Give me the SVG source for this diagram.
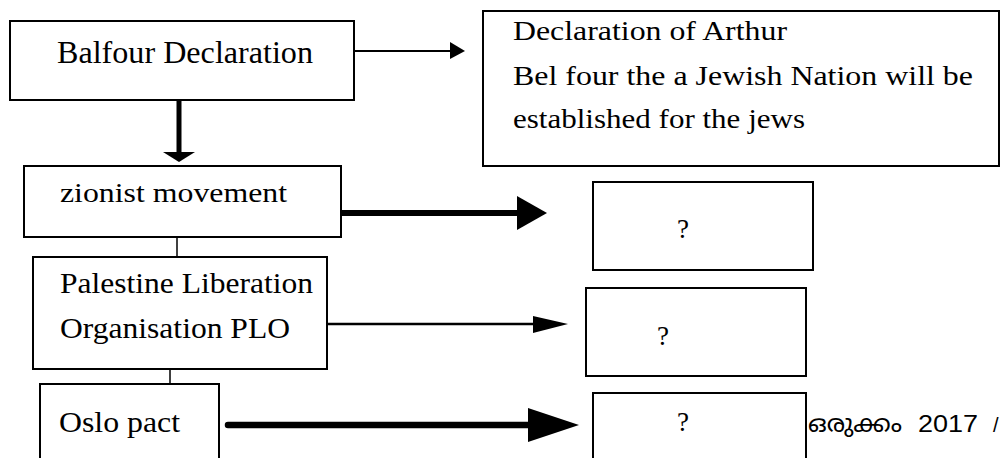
<svg xmlns="http://www.w3.org/2000/svg" width="1001" height="458" viewBox="0 0 1001 458">
<style>
.box{fill:#fff;stroke:#000;stroke-width:2}
.t{font-family:"Liberation Serif","Times New Roman",serif;fill:#000}
.c{stroke:#000;fill:none}
.h{fill:#000;stroke:none}
</style>
<rect x="0" y="0" width="1001" height="458" fill="#fff"/>
<g id="connectors">
<line class="c" x1="354" y1="51" x2="452" y2="51" stroke-width="2"/>
<polygon class="h" points="450,42 465,51 450,59"/>
<line class="c" x1="179" y1="100" x2="179" y2="154" stroke-width="5"/>
<polygon class="h" points="163,152 195,152 179,162"/>
<line class="c" x1="341" y1="213" x2="520" y2="213" stroke-width="6"/>
<polygon class="h" points="517,196 547,213 517,230"/>
<line class="c" x1="177" y1="232" x2="177" y2="257" stroke-width="1.5"/>
<line class="c" x1="327" y1="324" x2="535" y2="324" stroke-width="2.5"/>
<polygon class="h" points="533,316 568,324 533,333"/>
<line class="c" x1="170" y1="369" x2="170" y2="384" stroke-width="1.5"/>
<line class="c" x1="228" y1="425" x2="530" y2="425" stroke-width="6.5" stroke-linecap="round"/>
<polygon class="h" points="528,408 579,425 528,442"/>
</g>
<g id="balfour">
<rect class="box" x="10" y="21" width="344" height="79"/>
<text class="t" x="57" y="63" font-size="31" textLength="256" lengthAdjust="spacingAndGlyphs">Balfour Declaration</text>
</g>
<g id="declaration">
<rect class="box" x="483" y="11" width="516" height="155"/>
<text class="t" x="513" y="40" font-size="28" textLength="274" lengthAdjust="spacingAndGlyphs">Declaration of Arthur</text>
<text class="t" x="513" y="85" font-size="28" textLength="460" lengthAdjust="spacingAndGlyphs">Bel four the a Jewish Nation will be</text>
<text class="t" x="513" y="128" font-size="28" textLength="292" lengthAdjust="spacingAndGlyphs">established for the jews</text>
</g>
<g id="zionist">
<rect class="box" x="24" y="166" width="317" height="71"/>
<text class="t" x="60" y="202" font-size="27" textLength="227" lengthAdjust="spacingAndGlyphs">zionist  movement</text>
</g>
<g id="plo">
<rect class="box" x="33" y="257" width="294" height="112"/>
<text class="t" x="60" y="293" font-size="30" textLength="253" lengthAdjust="spacingAndGlyphs">Palestine Liberation</text>
<text class="t" x="60" y="338" font-size="30" textLength="230" lengthAdjust="spacingAndGlyphs">Organisation PLO</text>
</g>
<g id="oslo">
<rect class="box" x="40" y="384" width="179" height="90"/>
<text class="t" x="59" y="432" font-size="30" textLength="121" lengthAdjust="spacingAndGlyphs">Oslo pact</text>
</g>
<g id="q1">
<rect class="box" x="593" y="182" width="220" height="88"/>
<text class="t" x="683" y="238" font-size="27" text-anchor="middle">?</text>
</g>
<g id="q2">
<rect class="box" x="586" y="288" width="220" height="88"/>
<text class="t" x="663" y="345" font-size="27" text-anchor="middle">?</text>
</g>
<g id="q3">
<rect class="box" x="593" y="393" width="213" height="90"/>
<text class="t" x="683" y="431" font-size="27" text-anchor="middle">?</text>
</g>
<g id="footer">
<text x="808" y="432" font-family="'Noto Sans Malayalam','Noto Sans','Liberation Sans',sans-serif" font-size="24" fill="#000"><tspan textLength="94" lengthAdjust="spacingAndGlyphs">ഒരുക്കം</tspan><tspan x="918" font-family="'Liberation Sans',sans-serif" font-size="23" textLength="60" lengthAdjust="spacingAndGlyphs">2017</tspan><tspan x="993" font-family="'Liberation Sans',sans-serif" font-size="20">/</tspan></text>
</g>
</svg>
